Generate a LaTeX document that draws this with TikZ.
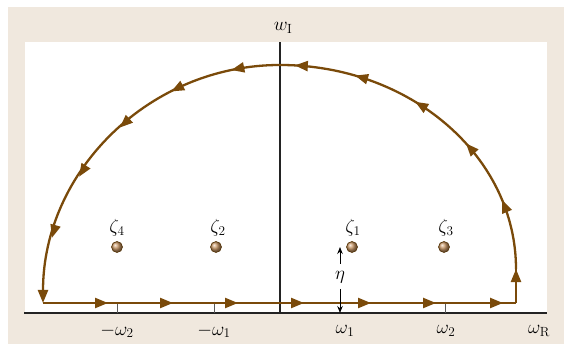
\RequirePackage{fix-cm}
\documentclass[tikz,border=0pt]{standalone}
\usetikzlibrary{arrows.meta,decorations.markings}
\definecolor{beige}{RGB}{240,232,222}
\definecolor{cbrown}{RGB}{122,74,10}
\definecolor{axisc}{RGB}{35,35,35}
\definecolor{tickc}{RGB}{90,90,90}
\definecolor{dotc}{RGB}{200,150,100}
\begin{document}
\begin{tikzpicture}[x=1pt,y=1pt,
  every node/.style={font=\fontsize{19}{22}\selectfont, inner sep=0pt},
  contour/.style={draw=cbrown, line width=2.3pt, line join=miter},
  axisline/.style={draw=axisc, line width=1.4pt},
  tickline/.style={draw=tickc, line width=0.8pt},
  dot/.style={circle, minimum size=11pt, inner sep=0pt, draw=cbrown!70!black, line width=0.6pt, shading=ball, ball color=dotc},
  etaarrow/.style={draw=black, line width=0.9pt, -{Stealth[length=7pt,width=5.5pt]}}
]
\newcommand{\ctip}{\arrow[cbrown]{Triangle[length=13pt,width=10pt]}}
\useasboundingbox (0,0) rectangle (564,344);
% background
\fill[beige] (8,0) rectangle (564,337);
\fill[white] (25,31) rectangle (547,302);
% axes
\coordinate (xl) at (24,31);
\coordinate (xr) at (547,31);
\coordinate (yb) at (280,31);
\coordinate (yt) at (280,302);
\draw[axisline] (xl) -- (xr);
\draw[axisline] (yb) -- (yt);
% ticks
\coordinate (t1) at (117,31); \coordinate (t1u) at (117,42);
\coordinate (t2) at (214,31); \coordinate (t2u) at (214,42);
\coordinate (t3) at (445,31); \coordinate (t3u) at (445,42);
\draw[tickline] (t1) -- (t1u);
\draw[tickline] (t2) -- (t2u);
\draw[tickline] (t3) -- (t3u);
% contour
\coordinate (A) at (43,41);
\coordinate (B) at (516,41);
\coordinate (C) at (516,75);
\coordinate (T) at (280,279);
\path[contour, postaction={decorate}, decoration={markings,
   mark=at position 65pt with {\ctip},
   mark=at position 130pt with {\ctip},
   mark=at position 195pt with {\ctip},
   mark=at position 261pt with {\ctip},
   mark=at position 328pt with {\ctip},
   mark=at position 393pt with {\ctip},
   mark=at position 460pt with {\ctip}}] (A) -- (B);
\path[contour, postaction={decorate}, decoration={markings,
   mark=at position 0.999 with {\ctip}}] (B) -- (C);
\path[contour, postaction={decorate}, decoration={markings,
   mark=at position 0.205 with {\ctip},
   mark=at position 0.40 with {\ctip},
   mark=at position 0.59 with {\ctip},
   mark=at position 0.78 with {\ctip},
   mark=at position 0.957 with {\ctip}}]
   (C) arc[start angle=0, end angle=90, x radius=236, y radius=204];
\path[contour, -{Triangle[length=13pt,width=10pt]}, postaction={decorate}, decoration={markings,
   mark=at position 49pt with {\ctip},
   mark=at position 113pt with {\ctip},
   mark=at position 176pt with {\ctip},
   mark=at position 240pt with {\ctip},
   mark=at position 307pt with {\ctip}}]
   (T) arc[start angle=90, end angle=180, x radius=237, y radius=238];
% poles
\node[dot] (z4) at (117,97) {};
\node[dot] (z2) at (216,97) {};
\node[dot] (z1) at (352,97) {};
\node[dot] (z3) at (444,97) {};
\node (lz4) at (117,116) {$\zeta_4$};
\node (lz2) at (218,116) {$\zeta_2$};
\node (lz1) at (353,116) {$\zeta_1$};
\node (lz3) at (446,116) {$\zeta_3$};
% eta
\node (eta) at (340,67) {$\eta$};
\coordinate (e1) at (340,80);
\coordinate (e1t) at (340,97);
\coordinate (e2) at (340,55);
\coordinate (e2b) at (340,31);
\draw[etaarrow] (e1) -- (e1t);
\draw[etaarrow] (e2) -- (e2b);
% axis labels
\node (lm2) at (117,13) {$-\omega_2$};
\node (lm1) at (214,13) {$-\omega_1$};
\node (lp1) at (345,13) {$\omega_1$};
\node (lp2) at (446,13) {$\omega_2$};
\node (lwr) at (539,13) {$\omega_{\mathrm R}$};
\node (lwi) at (283,316) {$w_{\mathrm I}$};
\end{tikzpicture}
\end{document}
